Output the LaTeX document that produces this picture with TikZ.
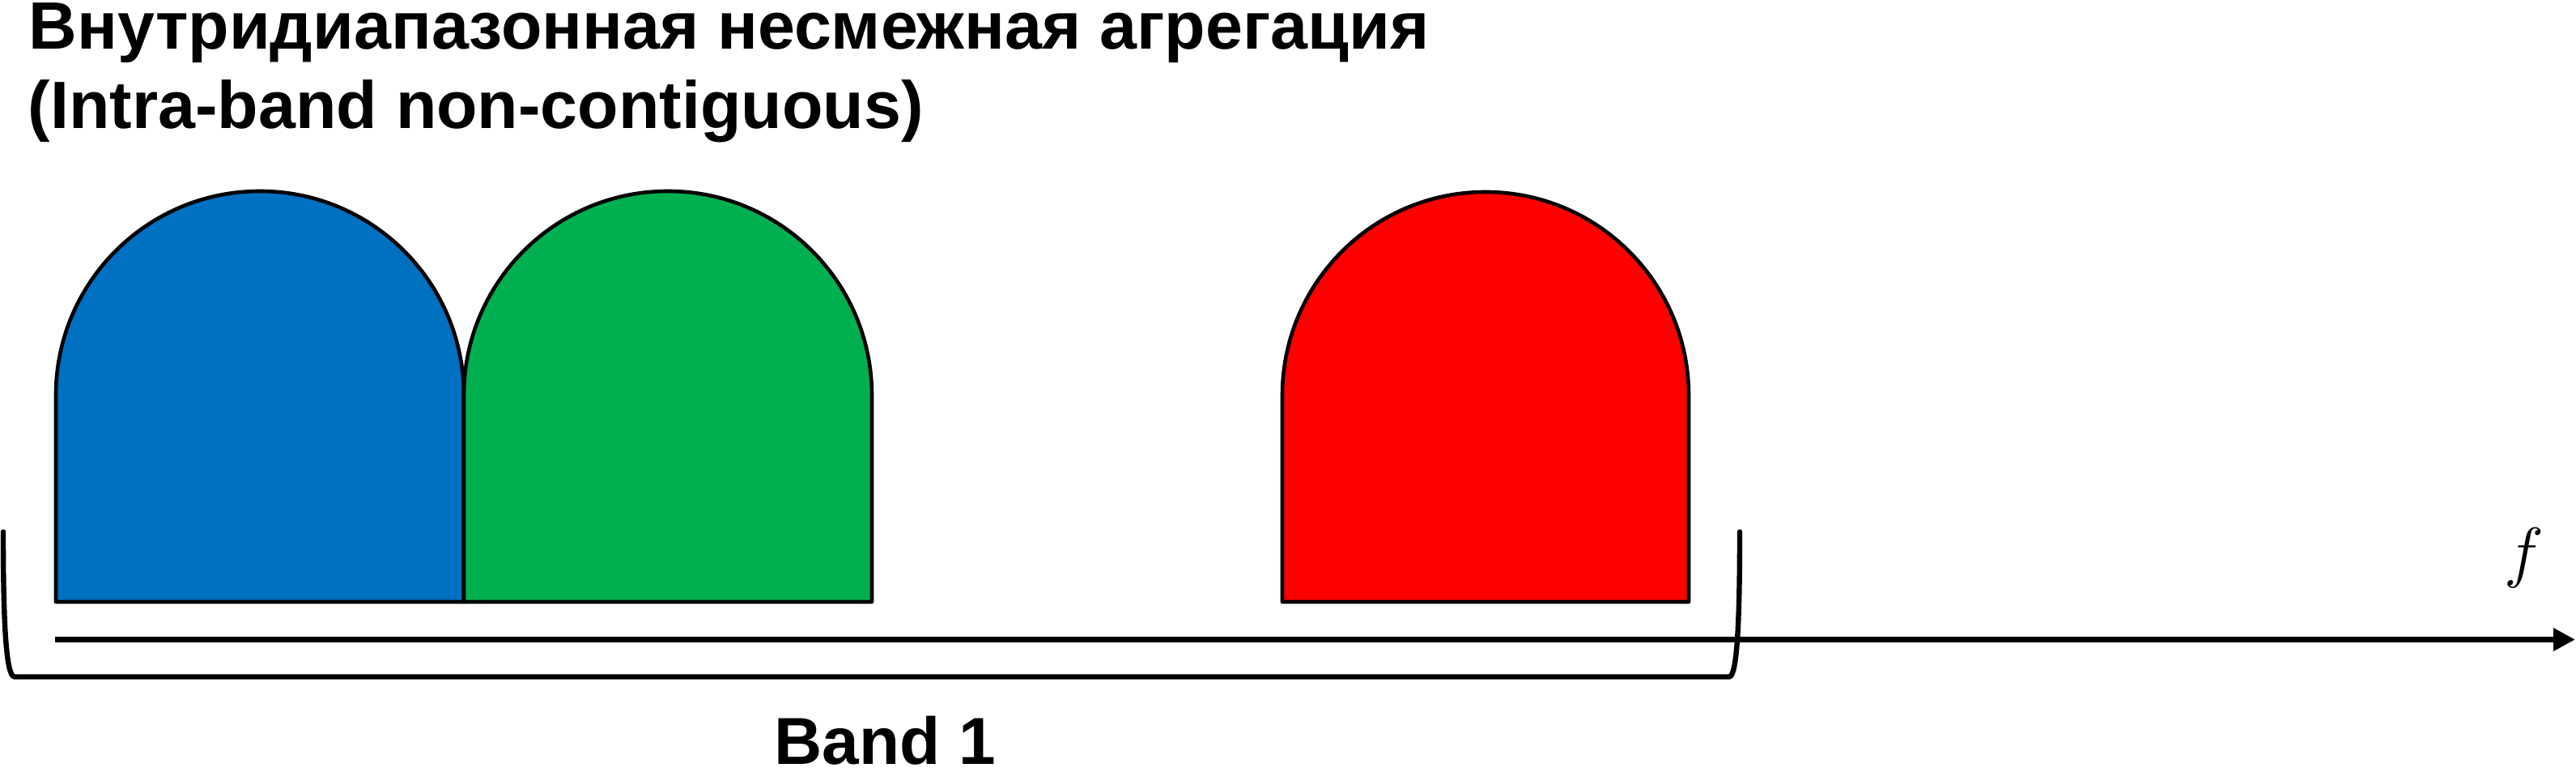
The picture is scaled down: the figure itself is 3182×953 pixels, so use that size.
\documentclass[tikz,border=0pt]{standalone}
\usepackage{fontspec}
\setmainfont{Liberation Sans}
\usetikzlibrary{arrows.meta}
\definecolor{bandblue}{HTML}{0070C0}
\definecolor{bandgreen}{HTML}{00B050}
\definecolor{bandred}{HTML}{FF0000}
\tikzset{
  carrier/.style={draw=black, line width=1.15pt, line join=round},
  titletext/.style={anchor=base west, inner sep=0pt, font=\bfseries\fontsize{20.65}{24.5}\selectfont},
  bandtext/.style={anchor=base, inner sep=0pt, font=\bfseries\fontsize{20.5}{24.5}\selectfont},
  axisline/.style={line width=1.75pt, -{Triangle[length=6.75pt,width=6.75pt]}},
  bracketline/.style={line width=1.6pt, line cap=round, line join=round}
}
\begin{document}
\begin{tikzpicture}[x=0.25pt,y=0.25pt]
\useasboundingbox (0,0) rectangle (3182,953);
% title
\node[titletext] (t1) at (35,892) {Внутридиапазонная несмежная агрегация};
\node[titletext] (t2) at (34,794) {(Intra-band non-contiguous)};
% carriers
\draw[carrier, fill=bandblue] (69,210) -- (69,465) arc[start angle=180, end angle=0, radius=252] -- (573,210) -- cycle;
\draw[carrier, fill=bandgreen] (573,210) -- (573,465) arc[start angle=180, end angle=0, radius=252] -- (1077,210) -- cycle;
\draw[carrier, fill=bandred] (1584,210) -- (1584,465) arc[start angle=180, end angle=0, radius=251] -- (2086,210) -- cycle;
% frequency axis
\coordinate (axisL) at (68,163.5);
\coordinate (axisR) at (3181,163.5);
\draw[axisline] (axisL) -- (axisR);
\node[anchor=base, inner sep=0pt, font=\fontsize{22}{24}\selectfont] (flabel) at (3118,243) {$f$};
% band bracket
\coordinate (brL) at (4,296.5);
\coordinate (brR) at (2149,296.5);
\draw[bracketline] (brL) .. controls (4,190) and (7,117.5) .. (18,117.5)
  -- (2136,117.5) .. controls (2146,117.5) and (2149,190) .. (brR);
\node[bandtext] (band) at (1093,9) {Band 1};
\end{tikzpicture}
\end{document}
